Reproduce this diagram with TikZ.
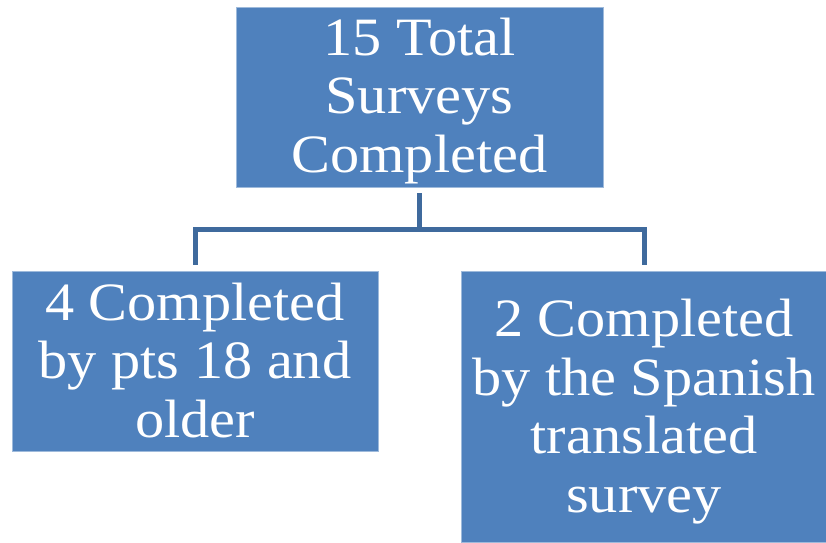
\documentclass[tikz,border=0pt]{standalone}
\usepackage{fontspec}
\setmainfont{Liberation Serif}[FakeStretch=1.08]
\definecolor{boxblue}{HTML}{4F81BD}
\definecolor{lineblue}{HTML}{3F6A9D}
\begin{document}
\begin{tikzpicture}[x=1pt,y=-1pt,
  box/.style={rectangle, fill=boxblue, draw=white!45!boxblue, line width=0.8pt,
    inner sep=0pt, text=white, font=\fontsize{54}{58.5}\selectfont,
    minimum width=366pt, text depth=0pt},
  conn/.style={draw=lineblue, line width=5pt, line join=miter}]
\useasboundingbox (0,0) rectangle (826,542);
\node[box, minimum width=367pt, minimum height=180pt, text height=150pt] (top) at (419.5,97)
  {\begin{tabular}[b]{@{}c@{}}15 Total\\Surveys\\Completed\end{tabular}};
\node[box, minimum height=180pt, text height=152pt] (left) at (195,361)
  {\begin{tabular}[b]{@{}c@{}}4 Completed\\by pts 18 and\\older\end{tabular}};
\node[box, minimum height=271pt, text height=211pt] (right) at (644,406.5)
  {\begin{tabular}[b]{@{}c@{}}2 Completed\\by the Spanish\\translated\\survey\end{tabular}};
\coordinate (j) at (419.5,229);
\draw[conn] ([yshift=-6pt]top.south) -- (j);
\draw[conn] ([yshift=6pt]left.north) |- (j) -| ([yshift=6pt]right.north);
\end{tikzpicture}
\end{document}
